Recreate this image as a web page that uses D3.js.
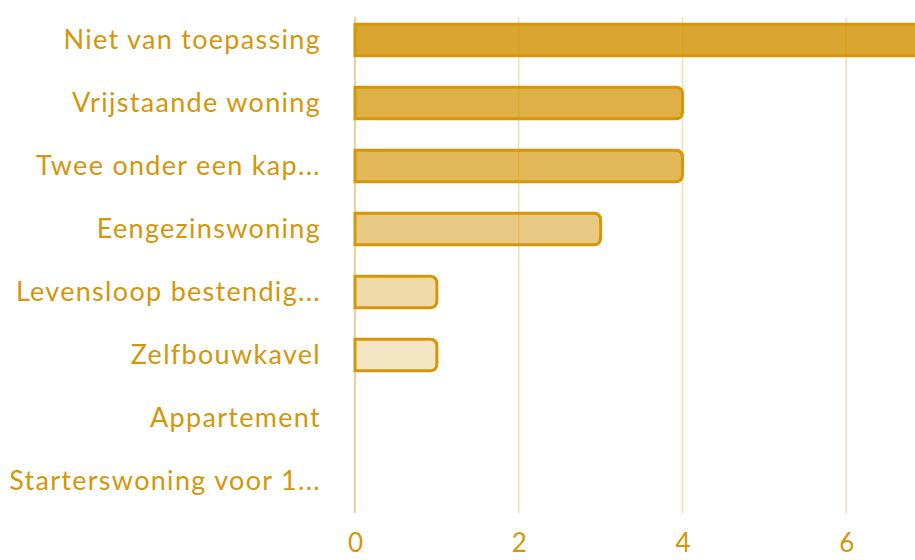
<!DOCTYPE html>
<html>
<head>
<meta charset="utf-8">
<script src="https://cdn.jsdelivr.net/npm/d3@7"></script>
<style>
  body { margin: 0; background: #fff; }
  svg { display: block; }
</style>
</head>
<body>
<div id="chart"></div>
<script>
  // data
  var categories = ["Niet van toepassing", "Vrijstaande woning", "Twee onder een kap...",
                    "Eengezinswoning", "Levensloop bestendig...", "Zelfbouwkavel",
                    "Appartement", "Starterswoning voor 1..."];
  var values = [7, 4, 4, 3, 1, 1, 0, 0];
  var xTicks = [0, 2, 4, 6];
  var fillOpacity = [0.85, 0.75, 0.68, 0.5, 0.35, 0.25, 0.2, 0.2];

  var width = 915, height = 560;
  var gold = "#d4960a";
  var font = "Lato, 'Noto Sans', sans-serif";

  var svg = d3.select("#chart")
    .append("svg")
      .attr("width", width)
      .attr("height", height);

  var x = d3.scaleLinear()
    .domain([0, 8])
    .range([355, 1010]);

  var y = d3.scaleBand()
    .domain(categories)
    .range([8.5, 512.5])
    .paddingInner(0.5)
    .paddingOuter(0.25);

  // vertical grid
  svg.append("g")
    .selectAll("line")
    .data(xTicks)
    .enter()
    .append("line")
      .attr("x1", function(d) { return x(d); })
      .attr("x2", function(d) { return x(d); })
      .attr("y1", 17)
      .attr("y2", 513)
      .style("stroke", gold)
      .style("stroke-opacity", function(d) { return d === 0 ? 0.55 : 0.3; })
      .style("stroke-width", 1.5);

  // x axis labels
  var xAxis = svg.append("g")
    .attr("transform", "translate(0,513)")
    .call(d3.axisBottom(x).tickValues(xTicks).tickSize(0).tickPadding(21));
  xAxis.select(".domain").remove();
  xAxis.selectAll("text")
    .style("font-family", font)
    .style("font-size", "26px")
    .style("fill", gold);

  // y axis labels
  var yAxis = svg.append("g")
    .attr("transform", "translate(321,0)")
    .call(d3.axisLeft(y).tickSize(0).tickPadding(0));
  yAxis.select(".domain").remove();
  yAxis.selectAll("text")
    .style("font-family", font)
    .style("font-size", "27px")
    .style("letter-spacing", "1.3px")
    .style("fill", gold);

  // bars (rounded right end, square left end)
  function barPath(d) {
    var x0 = x(0), x1 = x(d.v), y0 = y(d.c), h = y.bandwidth(), r = 7;
    if (x1 - x0 < r) r = Math.max(0, x1 - x0);
    return "M" + x0 + "," + y0 +
      "H" + (x1 - r) +
      "Q" + x1 + "," + y0 + " " + x1 + "," + (y0 + r) +
      "V" + (y0 + h - r) +
      "Q" + x1 + "," + (y0 + h) + " " + (x1 - r) + "," + (y0 + h) +
      "H" + x0 + "Z";
  }

  var rows = categories.map(function(c, i) { return {c: c, v: values[i], o: fillOpacity[i]}; });

  svg.append("g")
    .selectAll("path")
    .data(rows.filter(function(d) { return d.v > 0; }))
    .enter()
    .append("path")
      .attr("d", barPath)
      .style("fill", gold)
      .style("fill-opacity", function(d) { return d.o; })
      .style("stroke", gold)
      .style("stroke-width", 3);
</script>
</body>
</html>
